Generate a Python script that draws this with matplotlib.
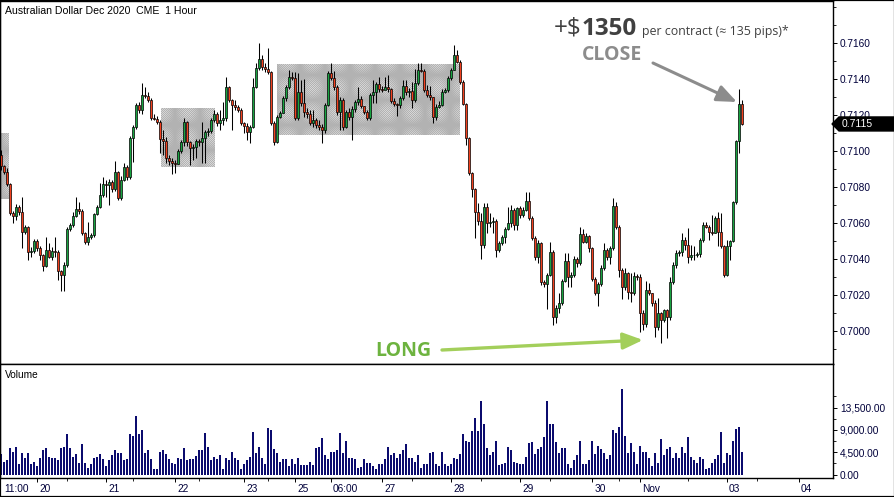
import matplotlib
matplotlib.use("Agg")
import matplotlib.pyplot as plt
from matplotlib.patches import Rectangle, Polygon
from matplotlib.ticker import FuncFormatter, MultipleLocator, FixedLocator
import numpy as np

plt.rcParams["font.family"] = ["Liberation Sans", "DejaVu Sans"]
plt.rcParams["hatch.linewidth"] = 0.55

# ===============================
# DATA (AUD Dec 2020, CME, 1 hour bars, 19 Oct 11:00 -> 3 Nov)
# ===============================

first_open = 0.70978

close = [
    0.70917, 0.70883, 0.70817, 0.70656, 0.70639, 0.70689, 0.70661, 0.70550, 0.70578, 0.70439,
    0.70444, 0.70500, 0.70461, 0.70422, 0.70361, 0.70450, 0.70411, 0.70444, 0.70439, 0.70333,
    0.70311, 0.70367, 0.70567, 0.70589, 0.70639, 0.70678, 0.70667, 0.70544, 0.70494, 0.70522,
    0.70533, 0.70650, 0.70689, 0.70756, 0.70817, 0.70812, 0.70828, 0.70789, 0.70883, 0.70739,
    0.70839, 0.70911, 0.70856, 0.71072, 0.71133, 0.71256, 0.71228, 0.71311, 0.71306, 0.71283,
    0.71183, 0.71180, 0.71161, 0.71067, 0.71056, 0.70961, 0.70944, 0.70933, 0.70930, 0.71000,
    0.71050, 0.71161, 0.71050, 0.71017, 0.71022, 0.71056, 0.71050, 0.71072, 0.71106, 0.71111,
    0.71172, 0.71206, 0.71156, 0.71172, 0.71183, 0.71356, 0.71283, 0.71256, 0.71244, 0.71228,
    0.71156, 0.71139, 0.71106, 0.71133, 0.71356, 0.71461, 0.71511, 0.71467, 0.71456, 0.71439,
    0.71156, 0.71050, 0.71189, 0.71211, 0.71294, 0.71356, 0.71411, 0.71406, 0.71183, 0.71328,
    0.71267, 0.71217, 0.71206, 0.71156, 0.71172, 0.71144, 0.71133, 0.71117, 0.71256, 0.71433,
    0.71406, 0.71356, 0.71217, 0.71283, 0.71133, 0.71217, 0.71189, 0.71233, 0.71272, 0.71289,
    0.71250, 0.71217, 0.71183, 0.71311, 0.71328, 0.71372, 0.71344, 0.71340, 0.71356, 0.71344,
    0.71278, 0.71261, 0.71256, 0.71294, 0.71361, 0.71328, 0.71333, 0.71283, 0.71378, 0.71450,
    0.71446, 0.71339, 0.71311, 0.71300, 0.71189, 0.71244, 0.71256, 0.71328, 0.71339, 0.71406,
    0.71450, 0.71533, 0.71494, 0.71383, 0.71261, 0.71072, 0.70878, 0.70789, 0.70661, 0.70611,
    0.70478, 0.70689, 0.70600, 0.70606, 0.70611, 0.70450, 0.70489, 0.70522, 0.70567, 0.70600,
    0.70672, 0.70589, 0.70683, 0.70644, 0.70672, 0.70722, 0.70628, 0.70517, 0.70411, 0.70489,
    0.70272, 0.70261, 0.70311, 0.70439, 0.70078, 0.70128, 0.70156, 0.70278, 0.70389, 0.70300,
    0.70311, 0.70400, 0.70378, 0.70539, 0.70494, 0.70528, 0.70461, 0.70289, 0.70211, 0.70261,
    0.70350, 0.70450, 0.70411, 0.70461, 0.70694, 0.70578, 0.70339, 0.70244, 0.70322, 0.70217,
    0.70211, 0.70306, 0.70300, 0.70100, 0.70039, 0.70228, 0.70211, 0.70156, 0.70022, 0.70100,
    0.70061, 0.70117, 0.70078, 0.70272, 0.70367, 0.70433, 0.70439, 0.70506, 0.70478, 0.70411,
    0.70422, 0.70420, 0.70428, 0.70506, 0.70589, 0.70578, 0.70550, 0.70546, 0.70628, 0.70550,
    0.70472, 0.70311, 0.70472, 0.70500, 0.70717, 0.71056, 0.71261, 0.71150,
]

high = [
    0.71006, 0.70922, 0.70906, 0.70822, 0.70667, 0.70706, 0.70700, 0.70744, 0.70589, 0.70583,
    0.70467, 0.70511, 0.70511, 0.70472, 0.70428, 0.70522, 0.70489, 0.70467, 0.70522, 0.70450,
    0.70339, 0.70383, 0.70578, 0.70600, 0.70661, 0.70744, 0.70717, 0.70678, 0.70550, 0.70606,
    0.70544, 0.70656, 0.70700, 0.70822, 0.70856, 0.70839, 0.70844, 0.70839, 0.70944, 0.70889,
    0.70861, 0.70933, 0.70922, 0.71083, 0.71144, 0.71267, 0.71272, 0.71378, 0.71356, 0.71328,
    0.71294, 0.71206, 0.71194, 0.71172, 0.71117, 0.71078, 0.70978, 0.70961, 0.70950, 0.71011,
    0.71061, 0.71183, 0.71167, 0.71056, 0.71039, 0.71067, 0.71067, 0.71161, 0.71117, 0.71128,
    0.71183, 0.71228, 0.71217, 0.71228, 0.71272, 0.71411, 0.71361, 0.71289, 0.71283, 0.71256,
    0.71239, 0.71161, 0.71156, 0.71144, 0.71406, 0.71489, 0.71600, 0.71533, 0.71489, 0.71572,
    0.71444, 0.71167, 0.71200, 0.71222, 0.71306, 0.71367, 0.71450, 0.71439, 0.71439, 0.71433,
    0.71394, 0.71400, 0.71239, 0.71228, 0.71228, 0.71183, 0.71172, 0.71150, 0.71267, 0.71444,
    0.71489, 0.71444, 0.71367, 0.71300, 0.71294, 0.71228, 0.71239, 0.71250, 0.71283, 0.71356,
    0.71306, 0.71250, 0.71228, 0.71322, 0.71394, 0.71383, 0.71411, 0.71361, 0.71411, 0.71422,
    0.71350, 0.71294, 0.71267, 0.71306, 0.71394, 0.71394, 0.71350, 0.71383, 0.71456, 0.71489,
    0.71489, 0.71456, 0.71367, 0.71361, 0.71300, 0.71261, 0.71278, 0.71344, 0.71350, 0.71417,
    0.71461, 0.71589, 0.71561, 0.71506, 0.71394, 0.71267, 0.71078, 0.70883, 0.70794, 0.70711,
    0.70656, 0.70711, 0.70711, 0.70656, 0.70633, 0.70622, 0.70500, 0.70533, 0.70578, 0.70689,
    0.70700, 0.70683, 0.70689, 0.70694, 0.70689, 0.70772, 0.70772, 0.70639, 0.70528, 0.70506,
    0.70494, 0.70283, 0.70322, 0.70494, 0.70450, 0.70144, 0.70211, 0.70289, 0.70433, 0.70433,
    0.70328, 0.70417, 0.70411, 0.70578, 0.70567, 0.70544, 0.70533, 0.70467, 0.70300, 0.70272,
    0.70367, 0.70489, 0.70461, 0.70472, 0.70739, 0.70717, 0.70589, 0.70350, 0.70350, 0.70328,
    0.70322, 0.70328, 0.70317, 0.70317, 0.70117, 0.70278, 0.70267, 0.70211, 0.70172, 0.70183,
    0.70106, 0.70122, 0.70122, 0.70300, 0.70383, 0.70450, 0.70450, 0.70544, 0.70522, 0.70572,
    0.70478, 0.70472, 0.70439, 0.70517, 0.70606, 0.70606, 0.70589, 0.70644, 0.70639, 0.70661,
    0.70656, 0.70478, 0.70506, 0.70506, 0.70722, 0.71061, 0.71344, 0.71283,
]

low = [
    0.70894, 0.70872, 0.70806, 0.70644, 0.70600, 0.70617, 0.70644, 0.70461, 0.70539, 0.70394,
    0.70411, 0.70433, 0.70444, 0.70394, 0.70333, 0.70356, 0.70406, 0.70394, 0.70411, 0.70283,
    0.70222, 0.70222, 0.70356, 0.70556, 0.70578, 0.70633, 0.70650, 0.70533, 0.70483, 0.70478,
    0.70511, 0.70522, 0.70644, 0.70683, 0.70744, 0.70744, 0.70700, 0.70772, 0.70778, 0.70728,
    0.70728, 0.70833, 0.70839, 0.70844, 0.70939, 0.71122, 0.71211, 0.71206, 0.71294, 0.71272,
    0.71172, 0.71172, 0.71150, 0.70989, 0.70978, 0.70933, 0.70922, 0.70872, 0.70878, 0.70928,
    0.70989, 0.71028, 0.71028, 0.70922, 0.70950, 0.70961, 0.71028, 0.70933, 0.70933, 0.71083,
    0.71100, 0.71161, 0.71139, 0.71117, 0.71144, 0.71167, 0.71272, 0.71117, 0.71228, 0.71217,
    0.71144, 0.71100, 0.71061, 0.71044, 0.71128, 0.71350, 0.71450, 0.71450, 0.71439, 0.71428,
    0.71144, 0.71033, 0.71044, 0.71183, 0.71211, 0.71278, 0.71344, 0.71394, 0.71172, 0.71172,
    0.71250, 0.71189, 0.71183, 0.71144, 0.71133, 0.71128, 0.71117, 0.71044, 0.71100, 0.71250,
    0.71394, 0.71339, 0.71200, 0.71117, 0.71117, 0.71128, 0.71172, 0.71061, 0.71217, 0.71256,
    0.71239, 0.71206, 0.71172, 0.71172, 0.71267, 0.71267, 0.71328, 0.71328, 0.71344, 0.71328,
    0.71267, 0.71250, 0.71194, 0.71239, 0.71283, 0.71311, 0.71300, 0.71239, 0.71272, 0.71367,
    0.71439, 0.71328, 0.71300, 0.71283, 0.71156, 0.71172, 0.71239, 0.71250, 0.71322, 0.71328,
    0.71394, 0.71450, 0.71489, 0.71372, 0.71256, 0.71033, 0.70867, 0.70744, 0.70517, 0.70589,
    0.70400, 0.70461, 0.70544, 0.70578, 0.70544, 0.70411, 0.70439, 0.70478, 0.70489, 0.70561,
    0.70578, 0.70561, 0.70561, 0.70628, 0.70633, 0.70667, 0.70617, 0.70506, 0.70394, 0.70378,
    0.70256, 0.70244, 0.70122, 0.70306, 0.70033, 0.70044, 0.70100, 0.70144, 0.70272, 0.70244,
    0.70244, 0.70300, 0.70356, 0.70367, 0.70489, 0.70489, 0.70439, 0.70278, 0.70200, 0.70139,
    0.70250, 0.70339, 0.70394, 0.70372, 0.70450, 0.70567, 0.70300, 0.70178, 0.70228, 0.70178,
    0.70161, 0.70200, 0.70283, 0.69994, 0.70006, 0.70022, 0.70200, 0.70139, 0.69967, 0.70006,
    0.69933, 0.70050, 0.69961, 0.70061, 0.70261, 0.70350, 0.70417, 0.70417, 0.70450, 0.70378,
    0.70394, 0.70394, 0.70411, 0.70411, 0.70494, 0.70572, 0.70506, 0.70533, 0.70544, 0.70472,
    0.70461, 0.70300, 0.70306, 0.70394, 0.70494, 0.70706, 0.70989, 0.71144,
]

volume = [
    4040, 2490, 2890, 5250, 4510, 5650, 2020, 4240, 3430, 4440,
    2020, 2620, 1680, 3430, 4850, 5250, 3630, 3230, 3230, 2830,
    5250, 5650, 8080, 5250, 3630, 4040, 2420, 6060, 2420, 1350,
    2220, 3430, 3630, 4040, 3030, 1620, 2830, 3840, 4850, 4440,
    4240, 2960, 3030, 8080, 7870, 11710, 8080, 8880, 4240, 4850,
    3030, 1210, 1210, 4640, 4850, 4040, 3030, 2420, 2220, 3230,
    3030, 5250, 2830, 3030, 3030, 3700, 4850, 4850, 8280, 5650,
    2830, 3630, 3030, 3840, 1010, 3430, 2830, 4640, 3230, 2830,
    1210, 2220, 2830, 3630, 8480, 4240, 5650, 3430, 2020, 9290,
    8880, 5050, 4240, 2620, 3030, 3030, 1620, 3030, 2020, 3230,
    1820, 1820, 1820, 2620, 1820, 5250, 5650, 7270, 3840, 3030,
    4640, 4640, 4850, 8280, 4440, 6860, 3230, 3430, 3030, 1350,
    1550, 3030, 2420, 2420, 1620, 1010, 2220, 2220, 3030, 5650,
    3840, 4240, 3430, 4040, 4850, 6060, 3230, 3230, 2620, 3840,
    1350, 2020, 2220, 4440, 4640, 2020, 1620, 4640, 2020, 1620,
    2220, 3230, 3030, 4040, 8080, 6860, 6460, 8680, 11310, 8680,
    14740, 10100, 5250, 3840, 4640, 6860, 1820, 2220, 2420, 5450,
    4850, 2620, 2420, 2220, 2020, 3630, 6260, 6460, 4040, 5050,
    5450, 7470, 14740, 10100, 10100, 6460, 4440, 5250, 5250, 2020,
    1410, 2830, 3840, 6660, 2020, 2020, 2830, 6860, 4040, 5850,
    5050, 4240, 3030, 3840, 8880, 8280, 9490, 17160, 7870, 4440,
    6260, 4640, 2020, 5850, 4640, 4640, 3230, 1620, 4240, 2420,
    7070, 3840, 5050, 5450, 3430, 4240, 3430, 5450, 4440, 7470,
    3630, 2830, 2420, 3630, 3030, 1010, 1410, 2420, 3030, 3840,
    8480, 2420, 4440, 3840, 6660, 9090, 9490, 4640,
]

# session/day ticks on the bar axis
day_ticks = [12, 35, 58, 81, 98, 110, 127, 150, 173, 197, 213, 242, 266]
day_labels = ["20", "21", "22", "23", "25", "06:00", "27", "28", "29", "30", "Nov", "03", "04"]
minor_day_ticks = [22, 44, 66, 89, 137, 160, 183, 206, 229, 252]
first_label = "11:00"

price_ticks = [0.7000, 0.7020, 0.7040, 0.7060, 0.7080, 0.7100, 0.7120, 0.7140, 0.7160]
volume_ticks = [0, 4500, 9000, 13500]

# consolidation boxes: bar start, bar end, price low, price high
zones = [
    (-0.4, 2.7, 0.70733, 0.71100),
    (53.2, 71.3, 0.70911, 0.71239),
    (92.0, 153.0, 0.71089, 0.71483),
]

# ===============================
# LAYOUT
# ===============================

W, H = 895, 497
fig = plt.figure(figsize=(W / 100, H / 100), dpi=100)
fig.patch.set_facecolor("white")

ax = fig.add_axes([0, 133 / H, 833 / W, 363 / H])
axv = fig.add_axes([0, 19 / H, 833 / W, 114 / H])

n = len(close)
x = np.arange(n)
opens = np.array([first_open] + close[:-1])
closes = np.array(close)

up_col = "#17a340"
dn_col = "#f2401e"
colors = [up_col if c >= o else dn_col for o, c in zip(opens, closes)]

for x0, x1, p0, p1 in zones:
    ax.add_patch(Rectangle((x0, p0), x1 - x0, p1 - p0, fill=False,
                           hatch="x" * 16, edgecolor="#b2b2b2", linewidth=0, zorder=1))

ax.vlines(x, low, high, color="black", linewidth=0.75, zorder=2)
ax.bar(x, closes - opens, bottom=opens, width=0.8, color=colors,
       edgecolor="black", linewidth=0.5, zorder=3)

ax.set_xlim(-1 / 3, 277.33)
ax.set_ylim(0.698167, 0.71833)

axv.bar(x, volume, width=0.64, color="#0b0b6e", zorder=2)
axv.set_xlim(-1 / 3, 277.33)
axv.set_ylim(-706, 22300)

tick_col = "#00003a"
for a in (ax, axv):
    for s in a.spines.values():
        s.set_linewidth(1.0)
        s.set_color("black")
    a.yaxis.tick_right()
    a.tick_params(axis="y", which="major", direction="out", length=3, width=0.7,
                  pad=2, labelsize=7.3, colors="black")
    a.tick_params(axis="y", which="minor", direction="out", length=2, width=0.6)
    a.tick_params(axis="y", labelcolor=tick_col)

ax.set_yticks(price_ticks)
ax.yaxis.set_major_formatter(FuncFormatter(lambda v, p: f"{v:.4f}"))
ax.yaxis.set_minor_locator(MultipleLocator(0.001))
ax.tick_params(axis="x", which="both", bottom=False, labelbottom=False)

axv.set_yticks(volume_ticks)
axv.yaxis.set_major_formatter(FuncFormatter(lambda v, p: f"{v:,.2f}"))
axv.yaxis.set_minor_locator(FixedLocator([2250, 6750, 11250, 15750]))

axv.set_xticks(day_ticks)
axv.xaxis.set_minor_locator(FixedLocator(minor_day_ticks))
axv.tick_params(axis="x", which="major", direction="out", length=3, width=0.7, labelbottom=False)
axv.tick_params(axis="x", which="minor", direction="out", length=2, width=0.6)

xt = axv.get_xaxis_transform()
axv.text(1.0, -0.1, first_label, transform=xt, ha="left", va="center",
         fontsize=7.3, color=tick_col)
for t, lab in zip(day_ticks, day_labels):
    axv.text(t + 0.7, -0.1, lab, transform=xt, ha="left", va="center",
             fontsize=7.3, color=tick_col)

axv.text(5 / 833, 1 - 11 / 114, "Volume", transform=axv.transAxes, ha="left",
         va="center", fontsize=7.3, color="black")
fig.text(5 / W, 1 - 11 / H, "Australian Dollar Dec 2020  CME  1 Hour", ha="left",
         va="center", fontsize=7.6, color="black")

# ===============================
# ANNOTATIONS
# ===============================

txt_col = "#404040"
fig.text(554 / W, 1 - 35 / H, "+$", ha="left", va="baseline", fontsize=17.5,
         family=["Open Sans", "DejaVu Sans"], color=txt_col)
fig.text(582 / W, 1 - 35 / H, "1350", ha="left", va="baseline", fontsize=17.5,
         fontweight="bold", family=["Open Sans", "DejaVu Sans"], color=txt_col)
fig.text(642 / W, 1 - 35 / H, "per contract (\u2248 135 pips)*", ha="left", va="baseline",
         fontsize=8.9, family=["Open Sans", "DejaVu Sans"], color=txt_col)
fig.text(582 / W, 1 - 60 / H, "CLOSE", ha="left", va="baseline", fontsize=14,
         fontweight="bold", family=["Open Sans", "DejaVu Sans"], color="#8c8c8c")
fig.text(375 / W, 1 - 356 / H, "LONG", ha="left", va="baseline", fontsize=14,
         fontweight="bold", family=["Open Sans", "DejaVu Sans"], color="#6db33f")

ax.annotate("", xy=(245.3, 0.71272), xycoords="data",
            xytext=(653, H - 63), textcoords="figure pixels",
            arrowprops=dict(arrowstyle="-|>,head_length=0.6,head_width=0.25",
                            color="#8c8c8c", lw=2.2, shrinkA=0, shrinkB=0,
                            mutation_scale=20))
ax.annotate("", xy=(214.0, 0.69950), xycoords="data",
            xytext=(442, H - 350), textcoords="figure pixels",
            arrowprops=dict(arrowstyle="-|>,head_length=0.6,head_width=0.25",
                            color="#a3cf5b", lw=2.4, shrinkA=0, shrinkB=0,
                            mutation_scale=20))

# last price tag
yl = ax.transData.transform((0, close[-1]))[1]
tag = [(832, yl), (839, yl + 7), (W, yl + 7), (W, yl - 7), (839, yl - 7)]
fig.patches.append(Polygon([(px / W, py / H) for px, py in tag], closed=True,
                           transform=fig.transFigure, facecolor="black",
                           edgecolor="black", zorder=5))
fig.text(842 / W, yl / H, f"{close[-1]:.4f}", ha="left", va="center", fontsize=7.5,
         color="white", zorder=6)

fig.patches.append(Rectangle((0, 0), 1, 1, transform=fig.transFigure, fill=False,
                             edgecolor="black", linewidth=1.6, zorder=7))

fig.savefig("out.png", dpi=100)
